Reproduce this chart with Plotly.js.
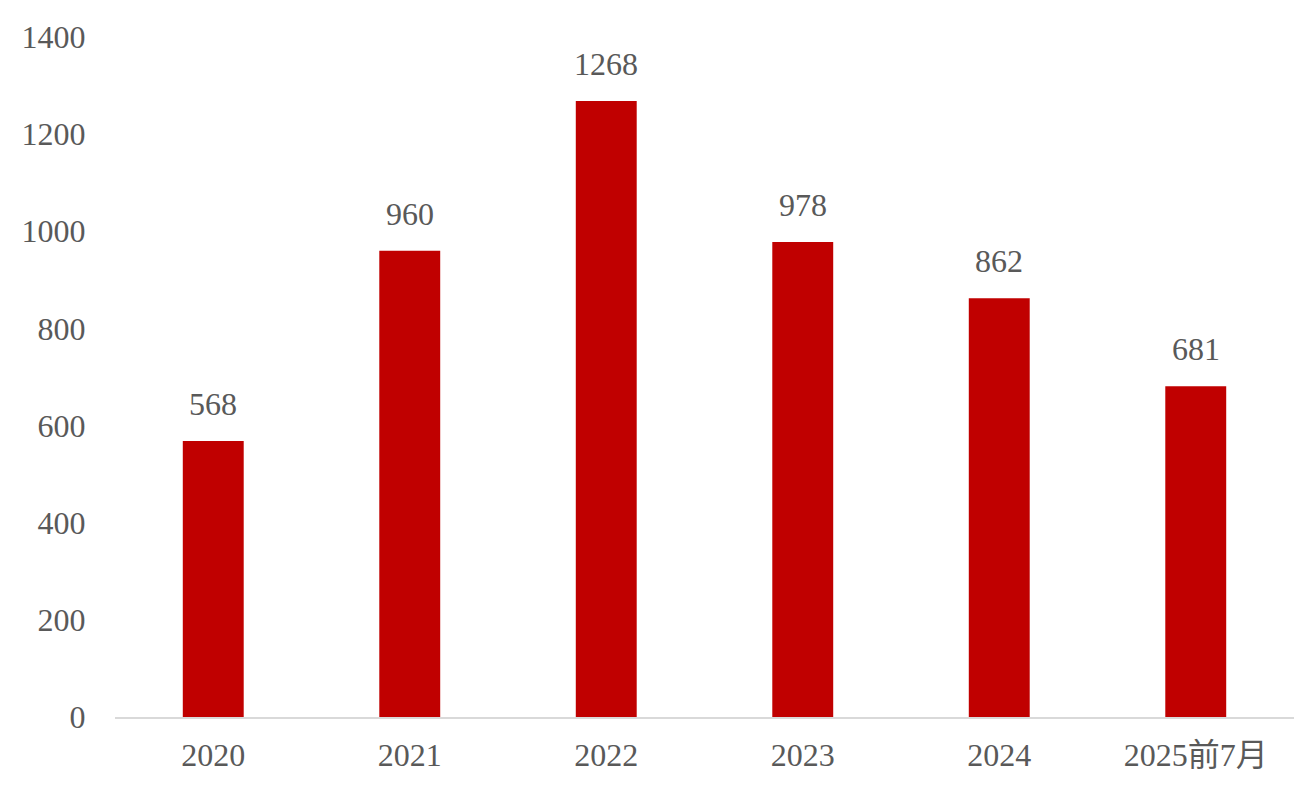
<!DOCTYPE html>
<html><head><meta charset="utf-8">
<script src="https://cdn.plot.ly/plotly-3.0.1.min.js"></script>
<style>html,body{margin:0;padding:0;background:#fff;}#chart{width:1296px;height:789px;}</style>
</head><body><div id="chart"></div>
<script>
const categories = ["2020", "2021", "2022", "2023", "2024", "2025前7月"];
const values = [568, 960, 1268, 978, 862, 681];
const yTicks = [0, 200, 400, 600, 800, 1000, 1200, 1400];

const fontFam = '"Liberation Serif", "DejaVu Serif", "Noto Sans CJK SC", serif';
const textColor = '#595959';
const fs = 32;

const trace = {
  type: 'bar',
  x: categories,
  y: values,
  marker: {color: '#C00000'},
  hoverinfo: 'skip'
};

const annotations = categories.map((c, i) => ({
  x: i, y: values[i], xref: 'x', yref: 'y',
  text: String(values[i]),
  showarrow: false, yanchor: 'middle', yshift: 37,
  font: {family: fontFam, size: fs, color: textColor}
}));

const layout = {
  width: 1296, height: 789,
  margin: {l: 115, r: 2, t: 37, b: 72},
  paper_bgcolor: '#fff', plot_bgcolor: '#fff',
  bargap: 0.69,
  showlegend: false,
  font: {family: fontFam, size: fs, color: textColor},
  xaxis: {
    type: 'category',
    range: [-0.5, categories.length - 0.5],
    showline: true, linecolor: '#D9D9D9', linewidth: 2,
    ticks: 'outside', ticklen: 9, tickcolor: 'rgba(0,0,0,0)',
    tickfont: {family: fontFam, size: fs, color: textColor},
    showgrid: false, zeroline: false
  },
  yaxis: {
    range: [0, 1400],
    tickvals: yTicks,
    ticktext: yTicks.map(String),
    showgrid: false, zeroline: false, showline: false,
    ticks: 'outside', ticklen: 22, tickcolor: 'rgba(0,0,0,0)',
    tickfont: {family: fontFam, size: fs, color: textColor}
  },
  annotations: annotations
};

Plotly.newPlot('chart', [trace], layout, {staticPlot: true, displayModeBar: false});
</script></body></html>
